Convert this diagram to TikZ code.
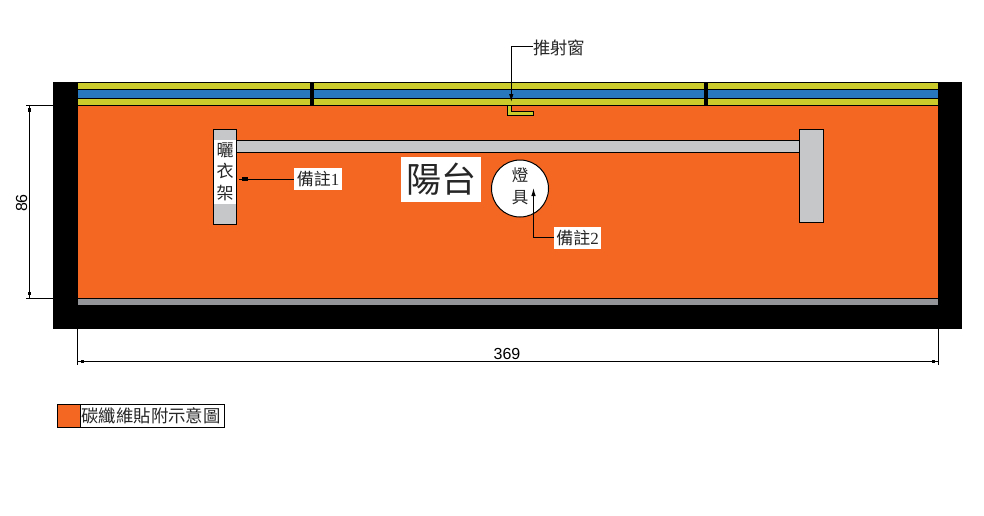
\documentclass[tikz,border=0pt]{standalone}
\usepackage{fontspec}
\setmainfont{Liberation Sans}
\newfontfamily\cjk{Noto Sans CJK TC}
\newfontfamily\serifdigit{Liberation Serif}
\usetikzlibrary{arrows.meta,calc}
\definecolor{carbon}{HTML}{F36722}
\definecolor{glass}{HTML}{2878BE}
\definecolor{frame}{HTML}{CBCB2B}
\definecolor{rack}{HTML}{C6C7C8}
\definecolor{sill}{HTML}{939598}
\newcommand\sq[1]{\fill ($(#1)+(-1.7,-1.7)$) rectangle ($(#1)+(1.7,1.7)$);}
\tikzset{
  x=1pt,y=-1pt,
  every path/.style={line width=1pt},
  band/.style={draw=black,line width=1pt},
  whitelabel/.style={fill=white,inner sep=0pt,font=\cjk,text=black!85},
  leader/.style={draw=black,line width=1pt},
  leadarrow/.style={leader,-{Latex[length=8pt,width=4.5pt]}},
  dimline/.style={draw=black,line width=1pt},
  dimtext/.style={inner sep=0pt,font=\fontsize{16}{16}\selectfont}
}
\begin{document}
\begin{tikzpicture}
\useasboundingbox (0,0) rectangle (984,515);
% walls
\fill[black] (53,82) rectangle (962,329);
\fill[carbon] (78,105) rectangle (938,298);
\fill[frame] (78,82.5) rectangle (938,105);
\fill[glass] (78,89.5) rectangle (938,98);
\draw[band] (78,82.5) -- (938,82.5);
\draw[band] (78,89.5) -- (938,89.5);
\draw[band] (78,98) -- (938,98);
\draw[band] (78,105) -- (938,105);
\fill[black] (310,82) rectangle (313.5,105);
\fill[black] (704,82) rectangle (708,105);
\fill[sill] (78,298.5) rectangle (938,305);
\draw[band] (78,298.2) -- (938,298.2);
% drying rack
\draw[band,fill=rack] (236,140.5) rectangle (800,152.5);
\node[draw=black,fill=rack,line width=1pt,minimum width=23pt,minimum height=95pt,inner sep=0pt] (hanger) at (225,177) {};
\node[draw=black,fill=rack,line width=1pt,minimum width=24pt,minimum height=93pt,inner sep=0pt] (hangerR) at (811.5,176) {};
\node[whitelabel,minimum width=22pt,minimum height=64pt,align=center,font=\cjk\fontsize{17}{21.5}\selectfont] (rackt) at (225,171.5) {曬\\衣\\架};
% balcony label
\node[whitelabel,minimum width=80pt,minimum height=45pt,font=\cjk\fontsize{35}{35}\selectfont] (balcony) at (441,179.5) {陽台};
% lamp
\node[circle,draw=black,fill=white,line width=1pt,minimum size=57pt,inner sep=0pt] (lamp) at (520,188.5) {};
\node[inner sep=0pt,align=center,font=\cjk\fontsize{16.5}{22}\selectfont,text=black!85] (lampt) at (520,186.5) {燈\\具};
% awning window
\draw[band,fill=frame] (507.5,105) -- (511,105) -- (511,111) -- (533.5,111) -- (533.5,115.5) -- (507.5,115.5) -- cycle;
% notes
\node[whitelabel,minimum width=48pt,minimum height=22pt,font=\cjk\fontsize{17}{17}\selectfont] (note1) at (318,179) {備註{\serifdigit 1}};
\node[whitelabel,minimum width=47pt,minimum height=22pt,font=\cjk\fontsize{17}{17}\selectfont] (note2) at (577.5,238) {備註{\serifdigit 2}};
\node[inner sep=0pt,font=\cjk\fontsize{17.3}{17.3}\selectfont,text=black!85,anchor=west] (win) at (532.5,48) {推射窗};
\coordinate (winA) at (511.3,46);
\coordinate (winB) at (511.3,102);
\coordinate (lampA) at (533.5,237.5);
\coordinate (lampB) at (533.5,188);
\draw[leader] (note1.west) -- ($(note1.west -| hanger.east)+(2,0)$);
\fill ($(note1.west -| hanger.east)+(5,-1.8)$) rectangle ($(note1.west -| hanger.east)+(10.5,1.8)$);
\draw[leadarrow] (win.west |- winA) -- (winA) -- (winB);
\draw[leadarrow] (note2.west |- lampA) -- (lampA) -- (lampB);
% dimensions
\coordinate (dL1) at (26,105);
\coordinate (dL2) at (26,298.2);
\coordinate (dT) at (29.5,105);
\coordinate (dB) at (29.5,298.2);
\coordinate (dE1) at (53,105);
\coordinate (dE2) at (53,298.2);
\draw[dimline] (dL1) -- (dE1);
\draw[dimline] (dL2) -- (dE2);
\draw[dimline] (dT) -- (dB);
\sq{29.5,110}
\sq{29.5,293.5}
\node[dimtext,rotate=90] (h86) at (21.5,203) {86};
\coordinate (wL) at (77.8,329);
\coordinate (wL2) at (77.8,365);
\coordinate (wR) at (938.5,329);
\coordinate (wR2) at (938.5,365);
\coordinate (wA) at (77.8,361.3);
\coordinate (wB) at (938.5,361.3);
\draw[dimline] (wL) -- (wL2);
\draw[dimline] (wR) -- (wR2);
\draw[dimline] (wA) -- (wB);
\sq{82.7,361.3}
\sq{933.3,361.3}
\node[dimtext,anchor=south] (w369) at (507,360.5) {369};
% legend
\node[draw=black,fill=white,line width=1pt,minimum width=167pt,minimum height=23pt,inner sep=0pt] (legend) at (141,415.8) {};
\node[draw=black,fill=carbon,line width=1pt,minimum width=23pt,minimum height=23pt,inner sep=0pt] (swatch) at (69,415.8) {};
\node[inner sep=0pt,anchor=west,font=\cjk\fontsize{17.4}{17.4}\selectfont,text=black!85] (legendt) at (81,415.8) {碳纖維貼附示意圖};
\end{tikzpicture}
\end{document}
